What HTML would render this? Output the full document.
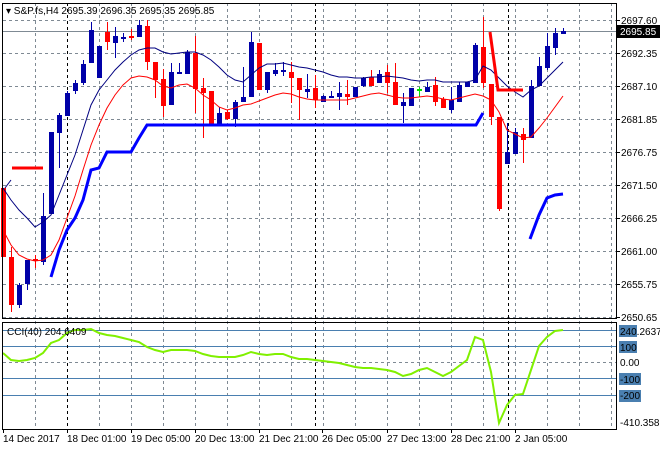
<!DOCTYPE html>
<html><head><meta charset="utf-8"><style>
body{margin:0;background:#fff;}
svg text{font-family:"Liberation Sans",sans-serif;font-size:10px;fill:#000;}
</style></head><body>
<svg id="s" width="660" height="450" xmlns="http://www.w3.org/2000/svg">
<rect width="660" height="450" fill="#fff"/>
<g id="grid" stroke="#7f8a94" stroke-dasharray="3,3" stroke-width="1"></g>
<g id="lev" stroke="#4a7fb0" stroke-width="1">
<line x1="3" y1="330.5" x2="616" y2="330.5"/><line x1="3" y1="346.5" x2="616" y2="346.5"/>
<line x1="3" y1="378.5" x2="616" y2="378.5"/><line x1="3" y1="395.5" x2="616" y2="395.5"/>
</g>
<g stroke="#000" stroke-dasharray="3,3"><line x1="67.5" y1="3" x2="67.5" y2="429"/><line x1="315.5" y1="3" x2="315.5" y2="429"/><line x1="508.5" y1="3" x2="508.5" y2="429"/></g>
<line x1="3" y1="31.5" x2="616" y2="31.5" stroke="#7f8a94"/>
<g id="c"></g>
<polyline id="nv" fill="none" stroke="#000080" stroke-width="1"/>
<polyline fill="none" stroke="#000080" stroke-width="1" points="5,188 11,180"/>
<polyline id="rd" fill="none" stroke="#ff0000" stroke-width="1"/>
<polyline fill="none" stroke="#0000ff" stroke-width="3" points="51,277 59,250 67,230 75,218 83,200 91,170 99,168 107,152 131,152 139,138 147,125 155,125 476,125 483,113"/>
<polyline fill="none" stroke="#0000ff" stroke-width="3" points="530,239 539,215 547,198 555,195 563,194"/>
<polyline fill="none" stroke="#ff0000" stroke-width="3" points="490,32 498,90 523,90"/>
<line x1="12" y1="168" x2="43" y2="168" stroke="#ff0000" stroke-width="3"/>
<polyline fill="none" stroke="#80f000" stroke-width="2" points="3,353 11,360 19,361 27,360 35,358 43,353 51,343 59,340 67,333 75,330 83,330 91,329 99,333 107,335 115,336 123,338 131,340 139,342 147,347 155,350 163,352 171,350 179,350 187,350 195,351 203,354 211,356 219,357 227,357 235,357 243,355 251,352 259,354 267,355 275,354 283,354 291,357 299,359 307,359 315,360 323,361 331,362 339,363 347,365 355,367 363,368 371,368 379,369 387,370 395,372 403,376 411,374 419,370 427,368 435,372 443,376 451,372 459,366 467,360 475,337 483,340 491,372 499,423 507,405 515,395 523,394 531,370 539,346 547,337 555,331 563,330"/>
<g fill="none" stroke="#000"><rect x="2.5" y="3.5" width="614" height="315"/><rect x="2.5" y="322.5" width="614" height="107"/></g>
<g id="t"></g>
<text x="6" y="14">▾ S&amp;P.fs,H4  2695.39 2696.35 2695.35 2695.85</text>
<text x="7" y="335">CCI(40) 204.6409</text>
<rect x="617" y="25" width="43" height="13" fill="#000"/>
<text x="620" y="35" style="fill:#fff">2695.85</text>
<rect x="619" y="341" width="18" height="12" fill="#4a7fb0"/>
<rect x="619" y="373" width="22" height="12" fill="#4a7fb0"/>
<rect x="619" y="390" width="22" height="12" fill="#4a7fb0"/>
<rect x="619" y="325" width="18" height="12" fill="#4a7fb0"/>
<text x="620" y="335">240.2637</text>
<text x="620" y="351">100</text>
<text x="620" y="366">0.00</text>
<text x="620" y="383">-100</text>
<text x="620" y="399">-200</text>
<text x="620" y="426">-410.3588</text>
</svg>
<script>
var ns="http://www.w3.org/2000/svg";
function el(p,n,a){var e=document.createElementNS(ns,n);for(var k in a)e.setAttribute(k,a[k]);p.appendChild(e);return e;}
var g=document.getElementById('grid');
for(var x=35;x<616;x+=32)el(g,'line',{x1:x+.5,y1:3,x2:x+.5,y2:429});
[20,53,86,119,152,185,218,251,284,317,362].forEach(function(y){el(g,'line',{x1:3,y1:y+.5,x2:616,y2:y+.5});});
var t=document.getElementById('t');
var pl=[["2697.60",20],["2692.35",53],["2687.10",86],["2681.85",119],["2676.75",152],["2671.50",185],["2666.25",218],["2661.00",251],["2655.75",284],["2650.65",317]];
pl.forEach(function(p){el(t,'line',{x1:616,y1:p[1]+.5,x2:620,y2:p[1]+.5,stroke:'#000'});var e=el(t,'text',{x:621,y:p[1]+4});e.textContent=p[0];});
var tl=[["14 Dec 2017",3],["18 Dec 01:00",67],["19 Dec 05:00",131],["20 Dec 13:00",195],["21 Dec 21:00",259],["26 Dec 05:00",322],["27 Dec 13:00",387],["28 Dec 21:00",451],["2 Jan 05:00",515]];
tl.forEach(function(p){el(t,'line',{x1:p[1]+.5,y1:429,x2:p[1]+.5,y2:433,stroke:'#000'});var e=el(t,'text',{x:p[1],y:442});e.textContent=p[0];});
var B='#0000a8',R='#ff0000',G='#00e000';
var d=[[188,257,188,257,R],[257,305,247,312,R],[285,305,283,308,B],[260,284,260,290,B],[259,261,255,268,R],[216,262,193,265,B],[132,214,132,214,B],[115,133,113,168,B],[93,116,91,116,B],[83,91,80,94,B],[64,83,60,85,B],[30,63,22,63,B],[46,78,46,78,B],[32,42,22,50,R],[36,43,27,58,B],[37,39,33,42,B],[36,38,29,40,R],[25,37,20,37,B],[26,62,20,70,R],[62,80,62,98,R],[79,106,69,117,R],[72,105,63,105,B],[72,74,63,74,B],[52,74,50,74,B],[53,89,36,113,R],[88,93,78,138,R],[91,125,91,125,R],[113,125,107,125,B],[112,119,110,120,R],[102,119,100,127,B],[97,102,67,102,B],[42,97,32,97,B],[43,90,43,90,R],[72,90,72,93,B],[70,74,63,76,B],[70,72,62,76,B],[72,78,62,103,R],[78,90,78,120,R],[89,92,74,98,B],[88,100,75,108,R],[96,102,95,102,B],[96,98,91,98,B],[93,97,82,110,B],[94,97,80,105,R],[87,97,87,97,B],[78,86,77,87,B],[77,86,70,86,R],[74,83,70,83,B],[72,83,65,93,R],[82,105,63,105,R],[102,106,93,123,B],[88,106,88,106,B],[89,91,87,97,G],[87,92,82,92,B],[85,102,77,106,R],[99,108,97,108,R],[100,110,87,113,B],[85,102,82,102,B],[82,87,82,87,B],[45,83,43,83,B],[47,83,17,88,R],[84,117,84,125,R],[117,209,117,211,R],[152,164,123,164,B],[132,154,128,154,B],[134,140,128,163,R],[86,138,80,138,B],[66,86,57,86,B],[46,68,33,70,B],[33,48,28,55,B],[31,34,28,34,B]];
var c=document.getElementById('c');
d.forEach(function(k,i){var x=3+8*i;el(c,'line',{x1:x+.5,y1:k[2],x2:x+.5,y2:k[3],stroke:k[4]});
var h=k[1]-k[0];if(h<2){el(c,'line',{x1:x-2,y1:k[0]+.5,x2:x+3,y2:k[0]+.5,stroke:k[4]});}else el(c,'rect',{x:x-2,y:k[0],width:5,height:h,fill:k[4]});});
document.getElementById('nv').setAttribute('points',"3,188 11,200 19,210 27,218 35,227 43,222 51,215 59,195 67,175 75,155 83,130 91,105 99,90 107,80 115,70 123,62 131,55 139,50 147,48 155,48 163,52 171,54 179,53 187,52 195,52 203,55 211,60 219,67 227,75 235,80 243,82 251,75 259,68 267,64 275,64 283,63 291,65 299,67 307,68 315,70 323,72 331,75 339,77 347,77 355,78 363,78 371,77 379,77 387,76 395,77 403,78 411,80 419,81 427,80 435,80 443,82 451,82 459,82 467,82 475,80 483,66 491,70 499,78 507,86 515,92 523,97 531,90 539,86 547,78 555,70 563,62");
document.getElementById('rd').setAttribute('points',"3,230 11,245 19,255 27,259 35,261 43,260 51,255 59,240 67,218 75,196 83,170 91,145 99,125 107,108 115,95 123,85 131,78 139,76 147,77 155,80 163,86 171,88 179,85 187,84 195,88 203,95 211,100 219,107 227,110 235,108 243,105 251,104 259,101 267,98 275,95 283,93 291,94 299,97 307,99 315,100 331,100 339,100 347,100 355,98 363,96 371,94 379,93 387,95 395,97 403,98 411,98 419,97 427,96 435,97 443,99 451,100 459,98 467,96 475,94 483,96 491,100 499,112 507,130 515,134 523,138 531,137 539,128 547,118 555,107 563,96");
</script>
</body></html>
